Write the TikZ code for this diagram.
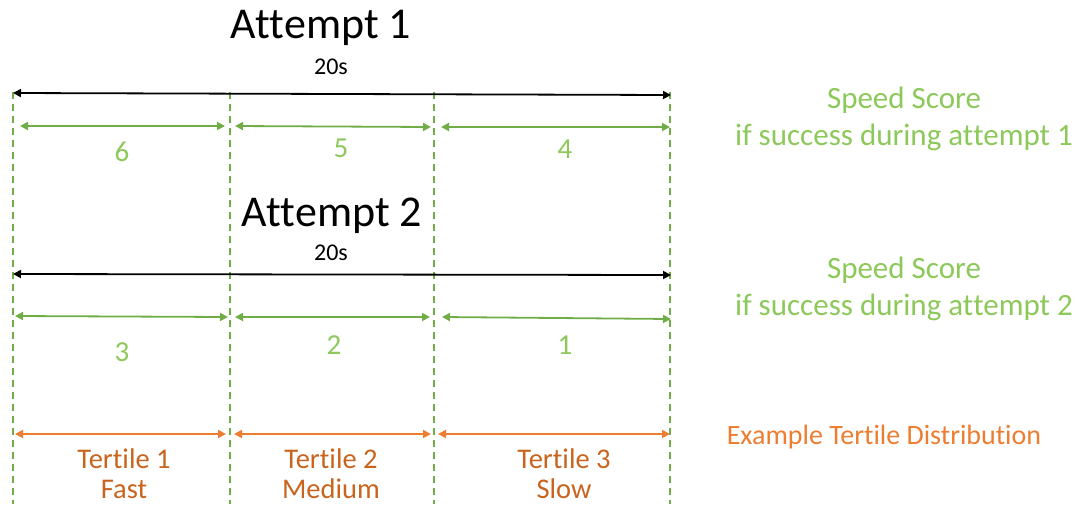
\documentclass[tikz,border=0pt]{standalone}
\usepackage{fontspec}
\setmainfont{Carlito}[Ligatures=NoCommon,Contextuals=NoAlternate]
\usetikzlibrary{arrows.meta}
\definecolor{gline}{HTML}{70AD47}
\definecolor{gtext}{HTML}{8CC95A}
\definecolor{oline}{HTML}{ED7D31}
\definecolor{otext}{HTML}{C8641E}
\begin{document}
\begin{tikzpicture}[x=1pt,y=-1pt,
  both/.style={{Triangle[length=8pt,width=8pt]}-{Triangle[length=8pt,width=8pt]}},
  divider/.style={gline,line width=1.8pt,dash pattern=on 7pt off 5pt},
  total/.style={both,black,line width=1.8pt},
  score/.style={both,gline,line width=1.8pt},
  tertile/.style={both,oline,line width=1.8pt},
  title/.style={font=\fontsize{44}{50}\selectfont,text=black},
  secs/.style={font=\fontsize{24}{28}\selectfont,text=black},
  num/.style={font=\fontsize{29}{32}\selectfont,text=gtext},
  side/.style={font=\fontsize{31}{37}\selectfont,text=gtext,align=center},
  tlabel/.style={font=\fontsize{28.5}{30}\selectfont,text=otext,align=center},
  inner sep=0pt]
\useasboundingbox (0,0) rectangle (1084,504);

% vertical dashed dividers
\foreach \x/\n in {13/a,230/b,434/c,670/d} {
  \coordinate (\n top) at (\x,92);
  \coordinate (\n bot) at (\x,504);
  \draw[divider] (\n top) -- (\n bot);
}

% attempt 1
\node[title] (att1) at (321,28) {At\kern0pt tempt 1};
\node[secs] (s1) at (331,67) {20s};
\coordinate (t1l) at (13,93);
\coordinate (t1r) at (671,95);
\draw[total] (t1l) -- (t1r);

\coordinate (g1a) at (20,126);  \coordinate (g1b) at (225,126);
\coordinate (g1c) at (235,126); \coordinate (g1d) at (431,127);
\coordinate (g1e) at (441,127); \coordinate (g1f) at (670,127);
\draw[score] (g1a) -- (g1b);
\draw[score] (g1c) -- (g1d);
\draw[score] (g1e) -- (g1f);
\node[num] (n6) at (122,152) {6};
\node[num] (n5) at (341,148) {5};
\node[num] (n4) at (565,149) {4};
\node[side] (sp1) at (904,119) {Speed Score\\if success during at\kern0pt tempt 1};

% attempt 2
\node[title] (att2) at (332,216) {At\kern0pt tempt 2};
\node[secs] (s2) at (331,253) {20s};
\coordinate (t2l) at (13,274);
\coordinate (t2r) at (671,275);
\draw[total] (t2l) -- (t2r);

\coordinate (g2a) at (15,316);  \coordinate (g2b) at (228,317);
\coordinate (g2c) at (235,317); \coordinate (g2d) at (430,317);
\coordinate (g2e) at (442,317); \coordinate (g2f) at (671,319);
\draw[score] (g2a) -- (g2b);
\draw[score] (g2c) -- (g2d);
\draw[score] (g2e) -- (g2f);
\node[num] (n3) at (122,352) {3};
\node[num] (n2) at (334,345) {2};
\node[num] (n1) at (565,345) {1};
\node[side] (sp2) at (904,289) {Speed Score\\if success during at\kern0pt tempt 2};

% tertiles
\coordinate (o1a) at (15,434);  \coordinate (o1b) at (226,434);
\coordinate (o1c) at (234,434); \coordinate (o1d) at (431,434);
\coordinate (o1e) at (438,434); \coordinate (o1f) at (670,434);
\draw[tertile] (o1a) -- (o1b);
\draw[tertile] (o1c) -- (o1d);
\draw[tertile] (o1e) -- (o1f);
\node[font=\fontsize{28}{32}\selectfont,text=oline] (ex) at (884,437) {Example Tertile Distribution};
\node[tlabel] (tt1) at (124,474) {Tertile 1\\Fast};
\node[tlabel] (tt2) at (331,474) {Tertile 2\\Medium};
\node[tlabel] (tt3) at (564,474) {Tertile 3\\Slow};
\end{tikzpicture}
\end{document}
